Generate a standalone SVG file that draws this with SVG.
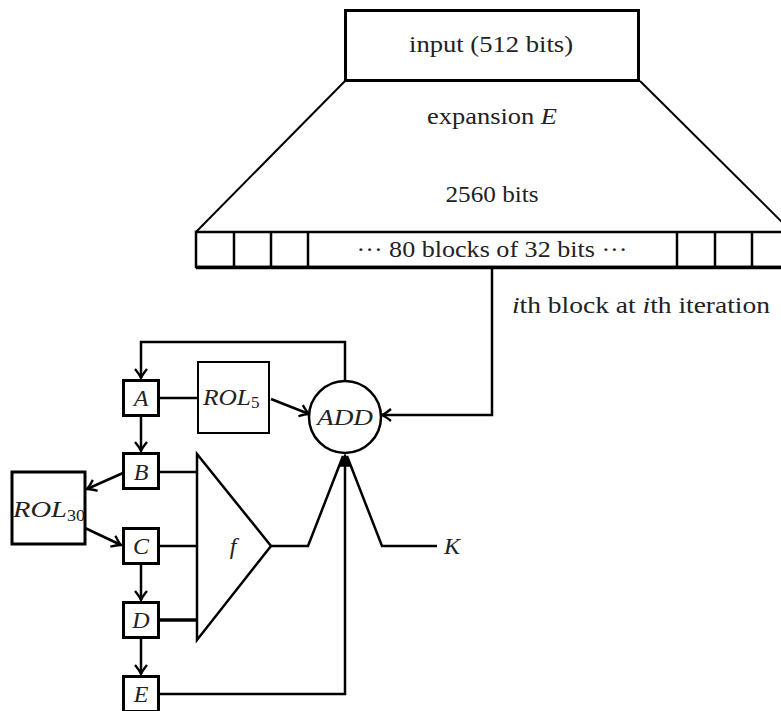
<svg xmlns="http://www.w3.org/2000/svg" width="781" height="711" viewBox="0 0 781 711">
<style>
.ln{fill:none;stroke:#000;stroke-width:2.5;stroke-linejoin:miter}
.thin{fill:none;stroke:#000;stroke-width:2}
.box{fill:#fff;stroke:#000;stroke-width:3}
text{font-family:'Liberation Serif','Times New Roman','DejaVu Serif','Noto Serif',serif;font-size:24px;fill:#222}
.m{font-style:italic}
.c{text-anchor:middle}
</style>
<defs>
<marker id="arr" markerUnits="userSpaceOnUse" markerWidth="24" markerHeight="24" viewBox="-12 -12 24 24" refX="0" refY="0" orient="auto">
<path d="M-9,-6 Q-3.5,-1.5 0,0 Q-3.5,1.5 -9,6" fill="none" stroke="#000" stroke-width="2.3"/>
</marker>
<marker id="arrf" markerUnits="userSpaceOnUse" markerWidth="24" markerHeight="24" viewBox="-12 -12 24 24" refX="0" refY="0" orient="auto">
<path d="M-11,-5 Q-4,-1.2 0,0 Q-4,1.2 -11,5 Z" fill="#000" stroke="#000" stroke-width="1.5"/>
</marker>
</defs>

<g id="expansion">
<path class="thin" d="M345,81 L196,232"/>
<path class="thin" d="M640,81 L792,232"/>
<text class="c" x="492" y="124" textLength="130" lengthAdjust="spacingAndGlyphs">expansion <tspan font-style="italic">E</tspan></text>
<text class="c" x="492" y="202" textLength="93" lengthAdjust="spacingAndGlyphs">2560 bits</text>
</g>

<g id="input">
<rect x="345.5" y="10.5" width="293" height="70" fill="#fff" stroke="#000" stroke-width="3"/>
<text class="c" x="491" y="52" textLength="164" lengthAdjust="spacingAndGlyphs">input (512 bits)</text>
</g>

<g id="blocks">
<rect x="196" y="232" width="600" height="35" fill="#fff" stroke="#000" stroke-width="2.5"/>
<path d="M196,267.5 H781" stroke="#000" stroke-width="3.5"/>
<path class="ln" d="M234,232 V267 M271,232 V267 M308,232 V267 M677,232 V267 M715,232 V267 M752,232 V267"/>
<text class="c" x="492" y="257" textLength="271" lengthAdjust="spacingAndGlyphs">··· 80 blocks of 32 bits ···</text>
</g>

<g id="label-ith">
<text x="512" y="313" textLength="258" lengthAdjust="spacingAndGlyphs"><tspan font-style="italic">i</tspan>th block at <tspan font-style="italic">i</tspan>th iteration</text>
</g>

<g id="connectors">
<path class="ln" d="M345,381 V342 H141 V378" marker-end="url(#arr)"/>
<path class="ln" d="M159,398 H198"/>
<path class="ln" d="M271,399 L309,414" marker-end="url(#arr)"/>
<path class="ln" d="M492,267 V415 H382" marker-end="url(#arr)"/>
<path class="ln" d="M141,416 V451" marker-end="url(#arr)"/>
<path class="ln" d="M123,473 L87,489" marker-end="url(#arr)"/>
<path class="ln" d="M85,528 L121,545" marker-end="url(#arr)"/>
<path class="ln" d="M141,564 V600" marker-end="url(#arr)"/>
<path class="ln" d="M141,638 V674" marker-end="url(#arr)"/>
<path class="ln" d="M159,472 H197 M159,546 H197"/>
<path d="M159,620 H197" stroke="#000" stroke-width="3.5"/>
<path class="ln" d="M271,546 H308 L343,456"/>
<path class="ln" d="M437,546 H382 L347,456"/>
<path class="ln" d="M159,694 H345 V455" marker-end="url(#arrf)"/>
</g>

<g id="A">
<rect class="box" x="123.5" y="380.5" width="35" height="35"/>
<text class="m c" x="141" y="406">A</text>
</g>
<g id="B">
<rect class="box" x="123.5" y="453.5" width="35" height="35"/>
<text class="m c" x="141" y="480">B</text>
</g>
<g id="C">
<rect class="box" x="123.5" y="528.5" width="35" height="35"/>
<text class="m c" x="141" y="554">C</text>
</g>
<g id="D">
<rect class="box" x="123.5" y="602.5" width="35" height="35"/>
<text class="m c" x="141" y="628">D</text>
</g>
<g id="E">
<rect class="box" x="123.5" y="676.5" width="35" height="35"/>
<text class="m c" x="141" y="702">E</text>
</g>

<g id="ROL5">
<rect x="198" y="362" width="71" height="71" fill="#fff" stroke="#000" stroke-width="2"/>
<text class="m" x="203" y="405" textLength="48" lengthAdjust="spacingAndGlyphs">ROL</text>
<text x="251" y="408" style="font-size:17px">5</text>
</g>

<g id="ROL30">
<rect x="12" y="472" width="73" height="72" fill="#fff" stroke="#000" stroke-width="3"/>
<text class="m" x="13" y="517" textLength="54" lengthAdjust="spacingAndGlyphs">ROL</text>
<text x="67" y="521" style="font-size:17px" textLength="18" lengthAdjust="spacingAndGlyphs">30</text>
</g>

<g id="ADD">
<circle cx="345" cy="417" r="36" fill="#fff" stroke="#000" stroke-width="2.5"/>
<text class="m c" x="345" y="425" textLength="56" lengthAdjust="spacingAndGlyphs">ADD</text>
</g>

<g id="f">
<polygon points="197,454 197,640 271,546" fill="#fff" stroke="#000" stroke-width="2.5"/>
<text class="m c" x="233" y="554">f</text>
</g>

<g id="K">
<text class="m" x="444" y="554">K</text>
</g>
</svg>
